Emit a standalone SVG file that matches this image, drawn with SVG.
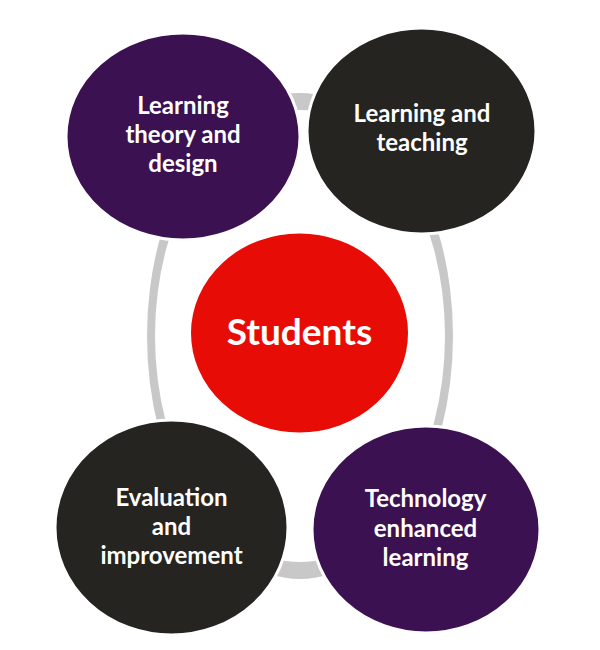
<svg xmlns="http://www.w3.org/2000/svg" width="600" height="650" viewBox="0 0 600 650">
<style>
.node{stroke:#ffffff;stroke-width:3}
.purple{fill:#3c1152}
.dark{fill:#252420}
.red{fill:#e80c06}
.lbl{font-family:Lato,"Open Sans","Liberation Sans",sans-serif;font-weight:bold;font-size:24px;fill:#ffffff;text-anchor:middle}
.big{font-size:37px}
</style>
<rect width="600" height="650" fill="#ffffff"/>
<g id="connectors">
<path d="M147,336 a153,243 0 1,0 306,0 a153,243 0 1,0 -306,0 Z M155,336 a145,226 0 1,0 290,0 a145,226 0 1,0 -290,0 Z" fill="#c8c8c8" fill-rule="evenodd"/>
</g>
<g id="students">
<ellipse class="node red" cx="299.5" cy="333" rx="110" ry="101"/>
<text class="lbl big" x="299.5" y="345">Students</text>
</g>
<g id="learning-theory">
<ellipse class="node purple" cx="183" cy="136.5" rx="117" ry="103.5"/>
<text class="lbl" x="183" y="114">Learning</text>
<text class="lbl" x="183" y="143">theory and</text>
<text class="lbl" x="183" y="172">design</text>
</g>
<g id="learning-teaching">
<ellipse class="node dark" cx="421.5" cy="131" rx="114.5" ry="103"/>
<text class="lbl" x="422" y="122">Learning and</text>
<text class="lbl" x="422" y="151">teaching</text>
</g>
<g id="evaluation">
<ellipse class="node dark" cx="171.5" cy="527.5" rx="116.5" ry="107.5"/>
<text class="lbl" x="171.5" y="506">Evaluation</text>
<text class="lbl" x="171.5" y="535">and</text>
<text class="lbl" x="171.5" y="564">improvement</text>
</g>
<g id="technology">
<ellipse class="node purple" cx="426" cy="529.5" rx="114" ry="103.5"/>
<text class="lbl" x="425.5" y="507">Technology</text>
<text class="lbl" x="425.5" y="537">enhanced</text>
<text class="lbl" x="425.5" y="566">learning</text>
</g>
</svg>
